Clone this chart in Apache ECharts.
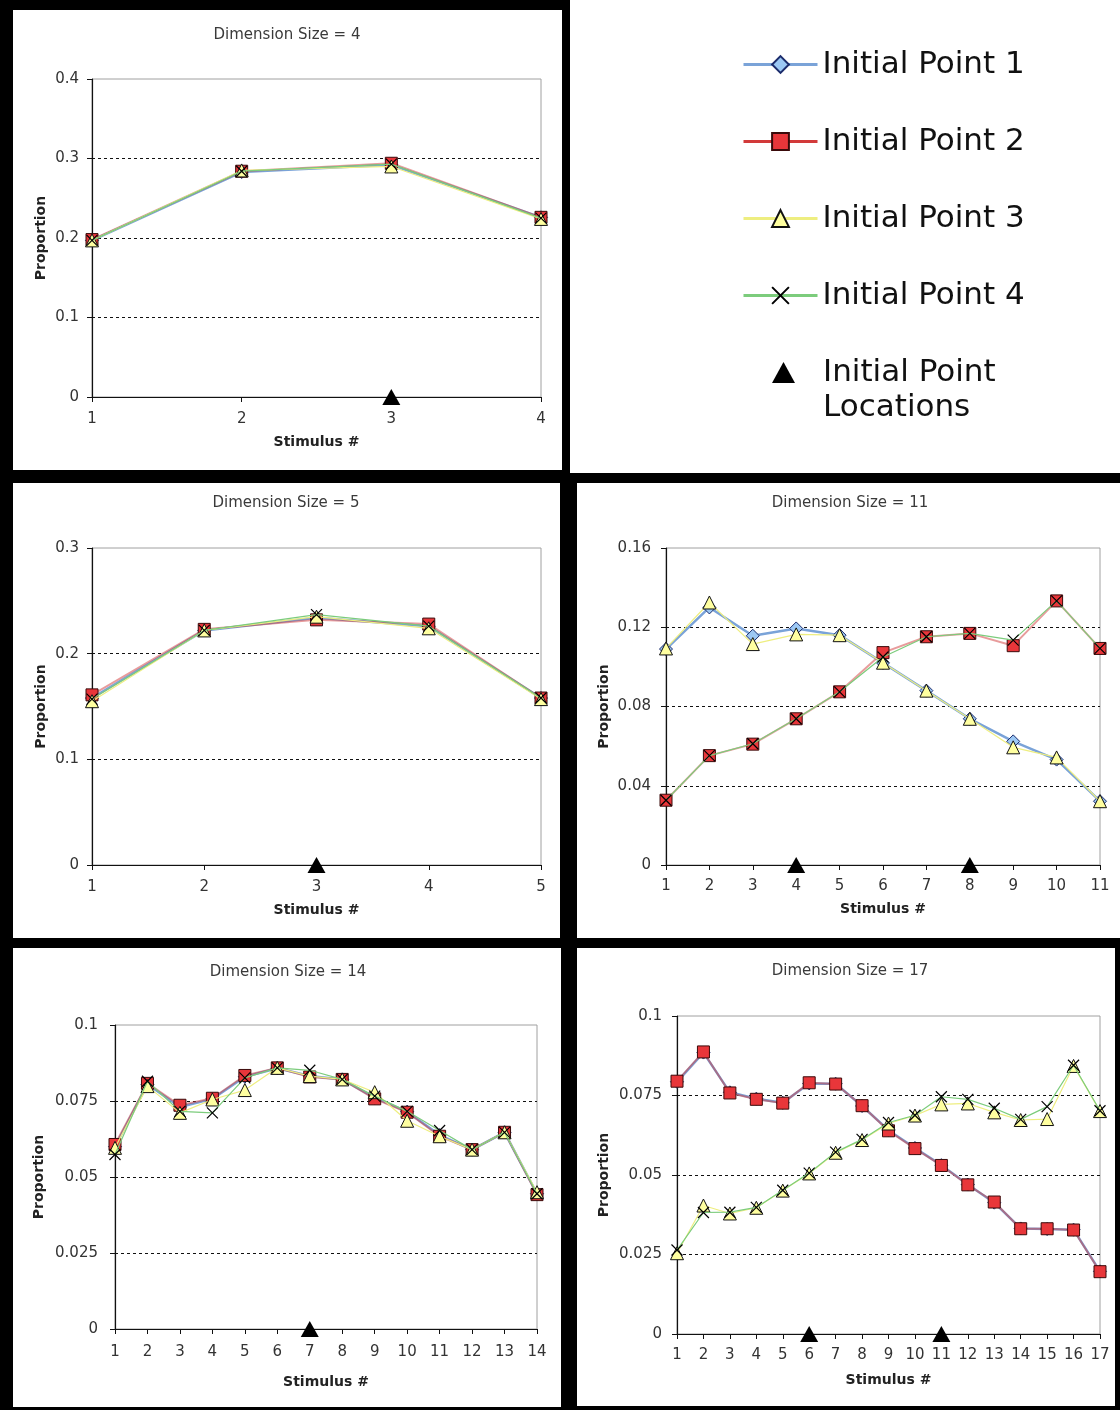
<!DOCTYPE html>
<html>
<head>
<meta charset="utf-8">
<script src="https://cdn.jsdelivr.net/npm/echarts@6/dist/echarts.min.js"></script>
<style>
html,body{margin:0;padding:0;background:#000;}
#chart{width:1120px;height:1410px;}
</style>
</head>
<body>
<div id="chart"></div>
<script>
// ---------------- DATA ----------------
const seriesNames = ['Initial Point 1', 'Initial Point 2', 'Initial Point 3', 'Initial Point 4'];
const locName = 'Initial Point Locations';

const dimSizes = [4, 5, 11, 14, 17];

const stim4 = ['1', '2', '3', '4'];
const stim5 = ['1', '2', '3', '4', '5'];
const stim11 = ['1', '2', '3', '4', '5', '6', '7', '8', '9', '10', '11'];
const stim14 = ['1', '2', '3', '4', '5', '6', '7', '8', '9', '10', '11', '12', '13', '14'];
const stim17 = ['1', '2', '3', '4', '5', '6', '7', '8', '9', '10', '11', '12', '13', '14', '15', '16', '17'];

// Dimension size 4
const d4_p1 = [0.197, 0.283, 0.292, 0.226];
const d4_p2 = [0.198, 0.284, 0.294, 0.226];
const d4_p3 = [0.197, 0.285, 0.290, 0.224];
const d4_p4 = [0.197, 0.284, 0.293, 0.225];
const d4_init = ['3'];

// Dimension size 5
const d5_p1 = [0.158, 0.222, 0.234, 0.226, 0.158];
const d5_p2 = [0.161, 0.223, 0.232, 0.228, 0.158];
const d5_p3 = [0.155, 0.222, 0.235, 0.224, 0.157];
const d5_p4 = [0.157, 0.222, 0.237, 0.226, 0.158];
const d5_init = ['3'];

// Dimension size 11
const d11_p1 = [0.109, 0.130, 0.1157, 0.1194, 0.116, 0.102, 0.088, 0.0738, 0.0624, 0.0532, 0.0322];
const d11_p2 = [0.0327, 0.0552, 0.0610, 0.0738, 0.0874, 0.1072, 0.1152, 0.1169, 0.1107, 0.1333, 0.1093];
const d11_p3 = [0.1093, 0.1325, 0.1115, 0.1164, 0.116, 0.1021, 0.088, 0.0738, 0.0594, 0.0543, 0.0322];
const d11_p4 = [0.0327, 0.0552, 0.0612, 0.0738, 0.0874, 0.1050, 0.1152, 0.1169, 0.1135, 0.1333, 0.1093];
const d11_init = ['4', '8'];

// Dimension size 14
const d14_p1 = [0.0600, 0.0805, 0.0730, 0.0757, 0.0830, 0.0858, 0.0832, 0.0821, 0.0760, 0.0715, 0.0638, 0.0590, 0.0647, 0.0445];
const d14_p2 = [0.0607, 0.0808, 0.0736, 0.0759, 0.0834, 0.0859, 0.0829, 0.0821, 0.0757, 0.0713, 0.0634, 0.0590, 0.0647, 0.0442];
const d14_p3 = [0.0596, 0.0799, 0.0711, 0.0755, 0.0786, 0.0859, 0.0832, 0.0821, 0.0779, 0.0685, 0.0634, 0.0590, 0.0647, 0.0450];
const d14_p4 = [0.0574, 0.0815, 0.0716, 0.0711, 0.0826, 0.0859, 0.0851, 0.0821, 0.0766, 0.0716, 0.0653, 0.0590, 0.0647, 0.0445];
const d14_init = ['7'];

// Dimension size 17
const d17_p1 = [0.0793, 0.0885, 0.0760, 0.0740, 0.0727, 0.0788, 0.0787, 0.0717, 0.0641, 0.0585, 0.0531, 0.0470, 0.0413, 0.0332, 0.0330, 0.0328, 0.0197];
const d17_p2 = [0.0795, 0.0887, 0.0758, 0.0738, 0.0726, 0.0790, 0.0786, 0.0718, 0.0639, 0.0583, 0.0530, 0.0469, 0.0415, 0.0331, 0.0331, 0.0327, 0.0196];
const d17_p3 = [0.0254, 0.0404, 0.0379, 0.0397, 0.0451, 0.0505, 0.0570, 0.0610, 0.0662, 0.0687, 0.0722, 0.0725, 0.0697, 0.0673, 0.0676, 0.0843, 0.0701];
const d17_p4 = [0.0264, 0.0382, 0.0383, 0.0398, 0.0452, 0.0506, 0.0572, 0.0612, 0.0665, 0.0688, 0.0746, 0.0738, 0.0710, 0.0675, 0.0715, 0.0845, 0.0702];
const d17_init = ['6', '11'];

// y-axis tick settings per panel
const yMax = [0.4, 0.3, 0.16, 0.1, 0.1];
const yStep = [0.1, 0.1, 0.04, 0.025, 0.025];

// ---------------- LAYOUT / STYLE ----------------
const panels = [
  { cats: stim4, data: [d4_p1, d4_p2, d4_p3, d4_p4], init: d4_init,
    grid: { left: 92, top: 79, width: 449, height: 318 }, titleX: 287, titleY: 28, xGap: 38, yGap: 44, lblMargin: 15, yLblMargin: 13 },
  { cats: stim5, data: [d5_p1, d5_p2, d5_p3, d5_p4], init: d5_init,
    grid: { left: 92, top: 548, width: 449, height: 317 }, titleX: 286, titleY: 496, xGap: 38, yGap: 44, lblMargin: 15, yLblMargin: 13 },
  { cats: stim11, data: [d11_p1, d11_p2, d11_p3, d11_p4], init: d11_init,
    grid: { left: 666, top: 548, width: 434, height: 317 }, titleX: 850, titleY: 496, xGap: 37, yGap: 55, lblMargin: 14, yLblMargin: 15 },
  { cats: stim14, data: [d14_p1, d14_p2, d14_p3, d14_p4], init: d14_init,
    grid: { left: 115, top: 1025, width: 422, height: 304 }, titleX: 288, titleY: 965, xGap: 46, yGap: 69, lblMargin: 16, yLblMargin: 17 },
  { cats: stim17, data: [d17_p1, d17_p2, d17_p3, d17_p4], init: d17_init,
    grid: { left: 677, top: 1016, width: 423, height: 318 }, titleX: 850, titleY: 964, xGap: 39, yGap: 66, lblMargin: 14, yLblMargin: 15 }
];

const whiteAreas = [
  [13, 10, 549, 460],
  [570, 0, 550, 473],
  [13, 483, 547, 455],
  [577, 483, 543, 455],
  [13, 948, 548, 459],
  [577, 948, 538, 458]
];

const FONT = 'DejaVu Sans';
const xPath = 'path://M0,0L10,10M10,0L0,10';

const seriesStyles = [
  { symbol: 'diamond', symbolSize: 13,
    lineStyle: { color: '#7aa3d8', width: 2.5 },
    itemStyle: { color: '#9cc8f4', borderColor: '#1c2c6c', borderWidth: 1 } },
  { symbol: 'rect', symbolSize: 12,
    lineStyle: { color: '#d23a3a', width: 2, opacity: 0.5 },
    itemStyle: { color: '#e8363a', borderColor: '#3a0a0a', borderWidth: 1 } },
  { symbol: 'triangle', symbolSize: 13,
    lineStyle: { color: '#eeee80', width: 1.2 },
    itemStyle: { color: '#ffffa0', borderColor: '#111', borderWidth: 1 } },
  { symbol: xPath, symbolSize: 11,
    lineStyle: { color: '#7ccc7c', width: 1.2 },
    itemStyle: { color: '#000', borderColor: '#000', borderWidth: 1.2 } }
];

const grids = [], xAxes = [], yAxes = [], series = [], titles = [];

panels.forEach((p, i) => {
  grids.push(Object.assign({ show: true, borderColor: '#a0a0a0', borderWidth: 1, backgroundColor: 'transparent', containLabel: false }, p.grid));
  titles.push({
    text: 'Dimension Size = ' + dimSizes[i],
    left: p.titleX, top: p.titleY, textAlign: 'center', padding: 0,
    textStyle: { fontFamily: FONT, fontSize: 15, fontWeight: 'normal', color: '#3a3a3a' }
  });
  xAxes.push({
    type: 'category', gridIndex: i, data: p.cats, boundaryGap: false, z: 3,
    name: 'Stimulus #', nameLocation: 'middle', nameGap: p.xGap,
    nameTextStyle: { fontFamily: FONT, fontSize: 14, fontWeight: 'bold', color: '#222' },
    axisLine: { show: true, lineStyle: { color: '#111', width: 1.2 } },
    axisTick: { show: true, length: 5, lineStyle: { color: '#111' } },
    axisLabel: { margin: p.lblMargin, fontFamily: FONT, fontSize: 15, color: '#333', interval: 0 },
    splitLine: { show: false }
  });
  yAxes.push({
    type: 'value', gridIndex: i, min: 0, max: yMax[i], interval: yStep[i], z: 3,
    name: 'Proportion', nameLocation: 'middle', nameGap: p.yGap,
    nameTextStyle: { fontFamily: FONT, fontSize: 14, fontWeight: 'bold', color: '#222' },
    axisLine: { show: true, lineStyle: { color: '#111', width: 1.2 } },
    axisTick: { show: true, length: 5, lineStyle: { color: '#111' } },
    axisLabel: { margin: p.yLblMargin, fontFamily: FONT, fontSize: 15, color: '#333' },
    splitLine: { show: true, showMinLine: false, showMaxLine: false, lineStyle: { color: '#111', type: [3, 3], width: 1 } }
  });
  p.data.forEach((vals, k) => {
    const st = seriesStyles[k];
    series.push({
      type: 'line', name: seriesNames[k], xAxisIndex: i, yAxisIndex: i,
      data: vals, symbol: st.symbol, symbolSize: st.symbolSize, showAllSymbol: true,
      lineStyle: st.lineStyle, itemStyle: st.itemStyle, clip: false, z: 4 + k,
      emphasis: { disabled: true }, animation: false
    });
  });
  series.push({
    type: 'scatter', name: locName, xAxisIndex: i, yAxisIndex: i,
    data: p.init.map(c => [c, 0]), symbol: 'triangle', symbolSize: [18, 16],
    itemStyle: { color: '#000', opacity: 1 }, clip: false, z: 10, emphasis: { disabled: true }, animation: false
  });
});

const option = {
  backgroundColor: '#000',
  animation: false,
  graphic: {
    elements: whiteAreas.map(r => ({
      type: 'rect', shape: { x: r[0], y: r[1], width: r[2], height: r[3] },
      style: { fill: '#fff' }, z: -100, silent: true
    }))
  },
  title: titles,
  legend: [
    {
      orient: 'vertical', left: 737, top: 44, itemWidth: 74, itemHeight: 21, itemGap: 46,
      selectedMode: false, data: seriesNames,
      textStyle: { fontFamily: FONT, fontSize: 31, color: '#111', lineHeight: 31 },
      lineStyle: { width: 3, opacity: 1 }
    },
    {
      orient: 'vertical', left: 772, top: 320, padding: 0, itemWidth: 23, itemHeight: 21,
      selectedMode: false,
      data: [{ name: locName, icon: 'triangle' }],
      itemStyle: { color: '#000', opacity: 1 },
      formatter: () => '\nInitial Point\nLocations',
      textStyle: { fontFamily: FONT, fontSize: 31, color: '#111', lineHeight: 35, padding: [0, 0, 0, 23] }
    }
  ],
  grid: grids,
  xAxis: xAxes,
  yAxis: yAxes,
  series: series
};

const chart = echarts.init(document.getElementById('chart'), null, { renderer: 'canvas' });
chart.setOption(option);
</script>
</body>
</html>
